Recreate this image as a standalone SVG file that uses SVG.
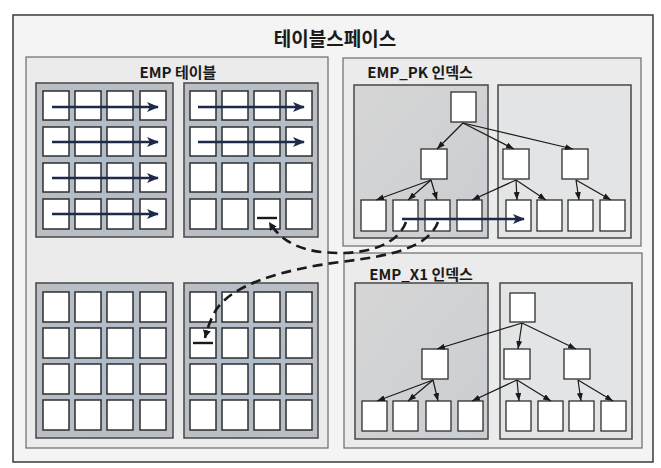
<svg xmlns="http://www.w3.org/2000/svg" width="661" height="468" viewBox="0 0 661 468">
<style>
text{font-family:"Noto Sans CJK KR","Noto Sans",sans-serif;font-weight:bold;fill:#1a1a1a}
.frame{fill:#f4f4f4;stroke:#3a3a3a;stroke-width:1.5}
.panel{fill:#ebebeb;stroke:#6a6a6a;stroke-width:1.2}
.blk{fill:url(#gblk);stroke:#474747;stroke-width:1.5}
.cell{fill:#fff;stroke:#2e2e2e;stroke-width:1.5}
.sub1{fill:url(#gsub1);stroke:#474747;stroke-width:1.5}
.sub2{fill:#e3e4e6;stroke:#474747;stroke-width:1.5}
.node{fill:#fff;stroke:#2e2e2e;stroke-width:1.3}
.scan{stroke:#1c2a47;stroke-width:2.6;fill:none;marker-end:url(#nav)}
.tr{stroke:#1a1a1a;stroke-width:1.2;fill:none;marker-end:url(#tip)}
.dash{stroke:#1a1a1a;stroke-width:2.6;fill:none;stroke-dasharray:10 6;marker-end:url(#dtip)}
.tee{stroke:#1a1a1a;stroke-width:2.4}
</style>
<defs>
<radialGradient id="gblk" cx="50%" cy="50%" r="70%">
<stop offset="0" stop-color="#adbccb"/>
<stop offset="1" stop-color="#bcbfc3"/>
</radialGradient>
<linearGradient id="gsub1" x1="0" y1="0" x2="1" y2="1">
<stop offset="0" stop-color="#d6d6d6"/>
<stop offset="1" stop-color="#cacdd1"/>
</linearGradient>
<marker id="nav" viewBox="0 0 12 10" refX="11" refY="5" markerWidth="12" markerHeight="10" markerUnits="userSpaceOnUse" orient="auto">
<path d="M0,0 L12,5 L0,10 L3,5 Z" fill="#1c2a47"/>
</marker>
<marker id="tip" viewBox="0 0 8 6" refX="8" refY="3" markerWidth="8" markerHeight="6" markerUnits="userSpaceOnUse" orient="auto">
<path d="M0,0 L8,3 L0,6 Z" fill="#1a1a1a"/>
</marker>
<marker id="dtip" viewBox="0 0 8 8" refX="8" refY="4" markerWidth="8" markerHeight="8" markerUnits="userSpaceOnUse" orient="auto">
<path d="M0,0 L8,4 L0,8 Z" fill="#1a1a1a"/>
</marker>
</defs>
<rect width="661" height="468" fill="#fff"/>
<g id="tablespace">
<rect class="frame" x="13" y="15" width="640" height="447"/>
<text x="335" y="46" font-size="19" text-anchor="middle">테이블스페이스</text>
</g>
<g id="emp-table">
<rect class="panel" x="26" y="57" width="302" height="391"/>
<text x="178" y="78" font-size="15" text-anchor="middle">EMP 테이블</text>
</g>
<g id="block-1">
<rect class="blk" x="36" y="83" width="137" height="154"/>
<rect class="cell" x="43" y="91" width="26" height="29"/><rect class="cell" x="75" y="91" width="26" height="29"/><rect class="cell" x="107" y="91" width="26" height="29"/><rect class="cell" x="140" y="91" width="26" height="29"/>
<rect class="cell" x="43" y="127" width="26" height="29"/><rect class="cell" x="75" y="127" width="26" height="29"/><rect class="cell" x="107" y="127" width="26" height="29"/><rect class="cell" x="140" y="127" width="26" height="29"/>
<rect class="cell" x="43" y="163" width="26" height="29"/><rect class="cell" x="75" y="163" width="26" height="29"/><rect class="cell" x="107" y="163" width="26" height="29"/><rect class="cell" x="140" y="163" width="26" height="29"/>
<rect class="cell" x="43" y="199" width="26" height="30"/><rect class="cell" x="75" y="199" width="26" height="30"/><rect class="cell" x="107" y="199" width="26" height="30"/><rect class="cell" x="140" y="199" width="26" height="30"/>
</g>
<g id="block-2">
<rect class="blk" x="184" y="83" width="134" height="154"/>
<rect class="cell" x="190" y="91" width="26" height="29"/><rect class="cell" x="222" y="91" width="26" height="29"/><rect class="cell" x="254" y="91" width="26" height="29"/><rect class="cell" x="286" y="91" width="26" height="29"/>
<rect class="cell" x="190" y="127" width="26" height="29"/><rect class="cell" x="222" y="127" width="26" height="29"/><rect class="cell" x="254" y="127" width="26" height="29"/><rect class="cell" x="286" y="127" width="26" height="29"/>
<rect class="cell" x="190" y="163" width="26" height="29"/><rect class="cell" x="222" y="163" width="26" height="29"/><rect class="cell" x="254" y="163" width="26" height="29"/><rect class="cell" x="286" y="163" width="26" height="29"/>
<rect class="cell" x="190" y="199" width="26" height="30"/><rect class="cell" x="222" y="199" width="26" height="30"/><rect class="cell" x="254" y="199" width="26" height="30"/><rect class="cell" x="286" y="199" width="26" height="30"/>
<line class="tee" x1="257" y1="218" x2="277" y2="218"/>
</g>
<g id="block-3">
<rect class="blk" x="36" y="283" width="137" height="155"/>
<rect class="cell" x="43" y="292" width="26" height="30"/><rect class="cell" x="75" y="292" width="26" height="30"/><rect class="cell" x="107" y="292" width="26" height="30"/><rect class="cell" x="140" y="292" width="26" height="30"/>
<rect class="cell" x="43" y="328" width="26" height="30"/><rect class="cell" x="75" y="328" width="26" height="30"/><rect class="cell" x="107" y="328" width="26" height="30"/><rect class="cell" x="140" y="328" width="26" height="30"/>
<rect class="cell" x="43" y="364" width="26" height="30"/><rect class="cell" x="75" y="364" width="26" height="30"/><rect class="cell" x="107" y="364" width="26" height="30"/><rect class="cell" x="140" y="364" width="26" height="30"/>
<rect class="cell" x="43" y="400" width="26" height="30"/><rect class="cell" x="75" y="400" width="26" height="30"/><rect class="cell" x="107" y="400" width="26" height="30"/><rect class="cell" x="140" y="400" width="26" height="30"/>
</g>
<g id="block-4">
<rect class="blk" x="184" y="283" width="134" height="155"/>
<rect class="cell" x="190" y="292" width="26" height="30"/><rect class="cell" x="222" y="292" width="26" height="30"/><rect class="cell" x="254" y="292" width="26" height="30"/><rect class="cell" x="286" y="292" width="26" height="30"/>
<rect class="cell" x="190" y="328" width="26" height="30"/><rect class="cell" x="222" y="328" width="26" height="30"/><rect class="cell" x="254" y="328" width="26" height="30"/><rect class="cell" x="286" y="328" width="26" height="30"/>
<rect class="cell" x="190" y="364" width="26" height="30"/><rect class="cell" x="222" y="364" width="26" height="30"/><rect class="cell" x="254" y="364" width="26" height="30"/><rect class="cell" x="286" y="364" width="26" height="30"/>
<rect class="cell" x="190" y="400" width="26" height="30"/><rect class="cell" x="222" y="400" width="26" height="30"/><rect class="cell" x="254" y="400" width="26" height="30"/><rect class="cell" x="286" y="400" width="26" height="30"/>
<line class="tee" x1="193" y1="343" x2="213" y2="343"/>
</g>
<g id="emp-pk-index">
<rect class="panel" x="343" y="58" width="298" height="188"/>
<text x="420" y="78" font-size="15" text-anchor="middle">EMP_PK 인덱스</text>
<rect class="sub1" x="354" y="85" width="134" height="153"/>
<rect class="sub2" x="498" y="85" width="133" height="153"/>
</g>
<g id="pk-root"><rect class="node" x="451" y="92" width="25" height="30"/></g>
<g id="pk-branch-1"><rect class="node" x="421" y="149" width="26" height="30"/></g>
<g id="pk-branch-2"><rect class="node" x="503" y="149" width="26" height="30"/></g>
<g id="pk-branch-3"><rect class="node" x="562" y="149" width="26" height="30"/></g>
<g id="pk-leaves">
<rect class="node" x="361" y="200" width="25" height="31"/><rect class="node" x="393" y="200" width="25" height="31"/><rect class="node" x="425" y="200" width="25" height="31"/><rect class="node" x="457" y="200" width="25" height="31"/>
<rect class="node" x="506" y="200" width="25" height="31"/><rect class="node" x="537" y="200" width="25" height="31"/><rect class="node" x="568" y="200" width="25" height="31"/><rect class="node" x="600" y="200" width="25" height="31"/>
</g>
<g id="emp-x1-index">
<rect class="panel" x="344" y="253" width="298" height="195"/>
<text x="421" y="280" font-size="15" text-anchor="middle">EMP_X1 인덱스</text>
<rect class="sub1" x="355" y="283" width="133" height="156"/>
<rect class="sub2" x="500" y="283" width="132" height="156"/>
</g>
<g id="x1-root"><rect class="node" x="510" y="293" width="25" height="29"/></g>
<g id="x1-branch-1"><rect class="node" x="422" y="349" width="26" height="30"/></g>
<g id="x1-branch-2"><rect class="node" x="504" y="349" width="26" height="30"/></g>
<g id="x1-branch-3"><rect class="node" x="564" y="349" width="26" height="30"/></g>
<g id="x1-leaves">
<rect class="node" x="362" y="401" width="25" height="30"/><rect class="node" x="393" y="401" width="25" height="30"/><rect class="node" x="426" y="401" width="25" height="30"/><rect class="node" x="458" y="401" width="25" height="30"/>
<rect class="node" x="506" y="401" width="25" height="30"/><rect class="node" x="538" y="401" width="25" height="30"/><rect class="node" x="569" y="401" width="25" height="30"/><rect class="node" x="601" y="401" width="25" height="30"/>
</g>
<g id="connectors">
<line class="scan" x1="52" y1="107" x2="158" y2="107"/>
<line class="scan" x1="52" y1="142" x2="158" y2="142"/>
<line class="scan" x1="52" y1="178" x2="158" y2="178"/>
<line class="scan" x1="52" y1="214" x2="158" y2="214"/>
<line class="scan" x1="198" y1="107" x2="304" y2="107"/>
<line class="scan" x1="198" y1="142" x2="304" y2="142"/>
<line class="tr" x1="463" y1="123" x2="437" y2="149"/>
<line class="tr" x1="463" y1="123" x2="514" y2="149"/>
<line class="tr" x1="463" y1="123" x2="573" y2="149"/>
<line class="tr" x1="431" y1="180" x2="376" y2="200"/>
<line class="tr" x1="431" y1="180" x2="408" y2="200"/>
<line class="tr" x1="431" y1="180" x2="437" y2="200"/>
<line class="tr" x1="516" y1="180" x2="472" y2="200"/>
<line class="tr" x1="516" y1="180" x2="517" y2="200"/>
<line class="tr" x1="516" y1="180" x2="546" y2="200"/>
<line class="tr" x1="576" y1="180" x2="579" y2="200"/>
<line class="tr" x1="576" y1="180" x2="611" y2="200"/>
<line class="scan" x1="402" y1="219" x2="524" y2="219"/>
<line class="tr" x1="522" y1="323" x2="437" y2="349"/>
<line class="tr" x1="522" y1="323" x2="518" y2="349"/>
<line class="tr" x1="522" y1="323" x2="576" y2="349"/>
<line class="tr" x1="433" y1="380" x2="377" y2="401"/>
<line class="tr" x1="433" y1="380" x2="408" y2="401"/>
<line class="tr" x1="433" y1="380" x2="438" y2="401"/>
<line class="tr" x1="517" y1="380" x2="472" y2="401"/>
<line class="tr" x1="517" y1="380" x2="519" y2="401"/>
<line class="tr" x1="517" y1="380" x2="551" y2="401"/>
<line class="tr" x1="578" y1="380" x2="581" y2="401"/>
<line class="tr" x1="578" y1="380" x2="613" y2="401"/>
<path class="dash" d="M406,222 C398,244 370,253 340,253 C305,253 283,244 269,222"/>
<path class="dash" d="M438,222 C428,248 390,256 340,262 C280,270 232,285 216,310 C210,320 207,330 205,338"/>
</g>
</svg>
